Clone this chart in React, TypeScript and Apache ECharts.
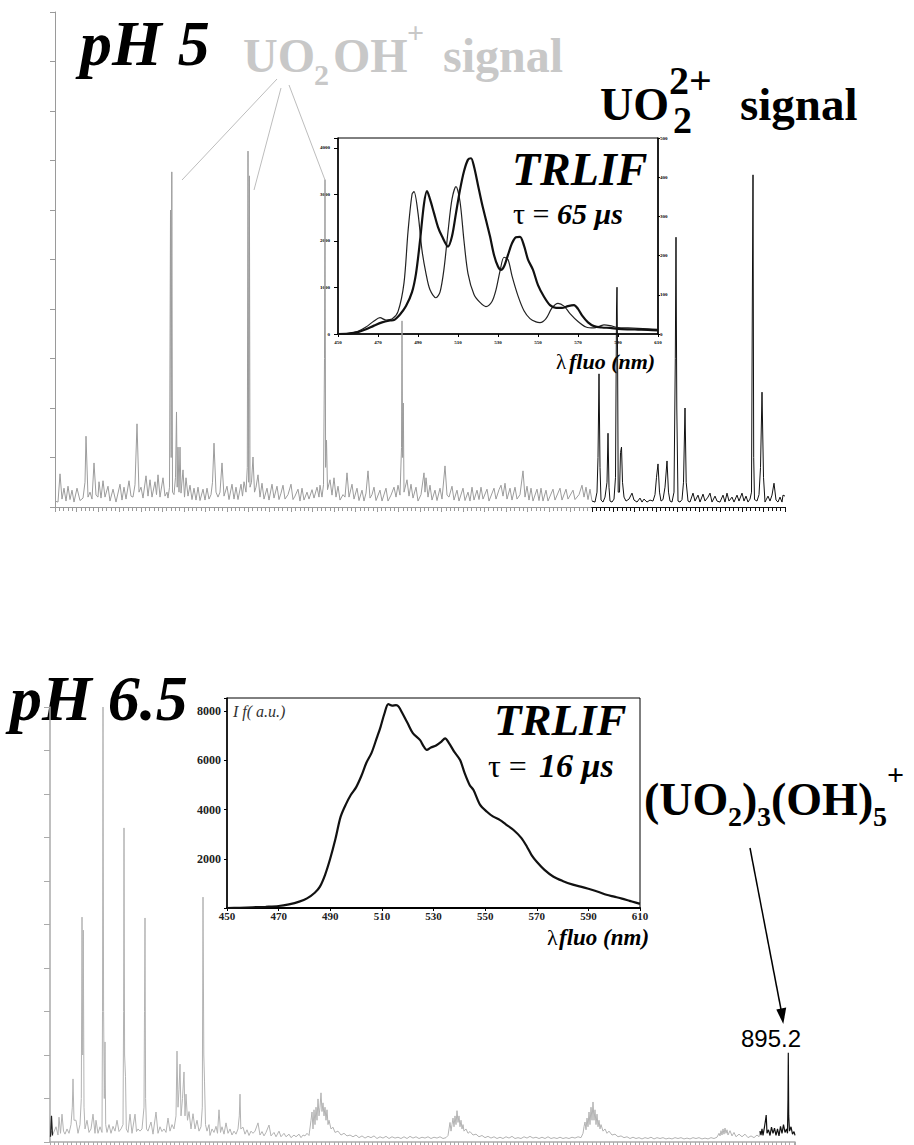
import React, { useEffect, useRef } from 'react';
import * as echarts from 'echarts';

// ---------- DATA ----------
// Top mass spectrum (pH 5): x = channel along axis (0..730), y = relative intensity (0..100)
const topGraySpectrum: number[][] = [
  [0,1.2],[3,1.0],[5,6.7],[7,1.6],[9,3.8],[11,1.2],[13,4.2],[15,1.5],[17,3.4],[19,1.0],[22,3.8],[25,1.3],[28,1.8],[30,5],[31,14.3],[33,2.0],[35,3.0],[37,1.6],[39,8.9],[41,2.4],[43,2.0],[44,5.1],[46,1.8],[48,5.3],[50,2.0],[53,4.2],[55,1.2],[58,3.6],[61,1.0],[65,4.6],[67,1.4],[69,4.0],[71,1.6],[74,5.3],[76,2.2],[78,2.0],[80,4.5],[82,16.8],[84,3.0],[86,4.0],[88,1.8],[91,6.3],[93,2.2],[95,5.5],[97,2.0],[100,5.1],[101.5,2.5],[103,6.5],[105,2.0],[108,5.9],[110,2.2],[112,3.0],[113,1.8],[114.5,4],[115.5,60],[116.2,10],[116.8,67.7],[117.5,3],[119,2.5],[120.5,6],[121.5,19.2],[122.2,4],[123,12.1],[124,3],[125,12.1],[126,2.8],[128,7.5],[129.5,2.0],[131,5.9],[133,2.2],[135,4.4],[137,1.5],[139,3.8],[141,1.4],[143,4.0],[145,1.3],[148,3.6],[150,1.4],[152,3.8],[154,1.6],[156,2.5],[157.5,5],[159,12.9],[161,3.0],[163,2.0],[165,3],[167,8.9],[169,2.2],[172,4.2],[174,1.5],[177,4.6],[179,1.6],[181,4.0],[183,1.5],[186,4.6],[187.5,2.2],[189,5.1],[191,3],[192.3,8],[193,71.9],[193.7,5],[194.4,66.9],[195,4],[196.5,5],[198,10.1],[199.5,3],[201,4],[203,6.5],[205,2],[207,4.8],[209,1.6],[212,3.8],[214,1.4],[217,4.6],[219,1.8],[222,4.2],[224,1.5],[226,2.8],[228,4.4],[230,1.6],[233,2.5],[236,4.6],[238,1.5],[240,2.2],[243,3.6],[245,1.2],[247,3.8],[249,1.4],[252,3.0],[254,1.6],[257,3.5],[259,1.8],[262,4.0],[264,2.0],[265,4.4],[267,2.0],[268.5,4.5],[269.5,30],[270,66.1],[270.6,8],[271.5,13.5],[272.5,3.5],[275,5.5],[277,2.4],[279,5.9],[281,2.0],[283,4.2],[285,1.4],[288,2.5],[290,2.0],[292,6.9],[294,2.0],[297,4.6],[299,1.6],[302,3.8],[304,1.3],[307,3.4],[309,1.2],[311,2.8],[313,7.3],[315,1.8],[317,2.5],[319,4.0],[321,1.3],[325,3.4],[327,1.2],[331,3.8],[333,1.2],[336,2.4],[339,4.0],[341,2.0],[343,4.4],[345,2.4],[346.5,12],[347,37.6],[347.6,10],[348.3,21],[349,3],[352,5.5],[354,2.2],[356,4.6],[358,1.8],[361,4.0],[363,1.2],[366,2.5],[369,6.9],[370,3],[371,5.9],[373,2],[375,4.4],[377,1.4],[380,3.4],[382,1.3],[385,3.8],[387,1.6],[390,8.3],[392,2.4],[394,2.0],[397,4.2],[399,1.4],[402,3.4],[404,1.2],[408,3.8],[410,1.3],[413,3.0],[415,1.2],[417,4.0],[419,1.4],[422,3.4],[424,1.5],[426,4.0],[428,1.6],[432,3.6],[434,1.2],[439,3.8],[441,1.6],[444,3.5],[446,4.4],[448,2.2],[450,4.8],[452,1.6],[455,3.8],[457,1.4],[460,4.0],[462,1.6],[465,2.5],[468,7.3],[470,2.0],[472,4.2],[474,1.4],[476,3.8],[478,1.2],[482,3.6],[484,1.3],[486,3.8],[488,1.2],[491,3.4],[493,1.2],[498,3.6],[500,1.4],[505,3.8],[507,1.4],[511,3.6],[513,1.6],[518,3.4],[520,1.5],[524,2.5],[527,4.4],[529,2.0],[531,4.0],[533,1.5],[535,3.6],[537,1.2]
];

const topBlackSpectrum: number[][] = [
  [537,1.2],[540,1.0],[542,3],[543,10],[544,26.9],[545,8],[546,1.4],[548,1.0],[550,2.0],[552,5],[553,14.9],[554,4],[555,1.2],[557,1.0],[559,1.6],[560.5,6],[561.5,40],[562,44.4],[562.6,30],[563.2,3],[564.5,3],[565.5,11],[566.5,12.1],[567.5,5],[569,2.0],[571,1.2],[574,1.6],[577,2.8],[579,1.4],[582,1.0],[585,1.8],[587,1.0],[589,1.6],[592,1.0],[595,1.4],[598,1.2],[600,2.5],[601.5,6],[603,8.7],[604.5,3],[606,1.2],[608,1.5],[610,4],[612,9.3],[613.5,3],[615,1.2],[617,1.0],[619,3],[620.3,30],[621,54.5],[621.8,20],[623,1.2],[625,1.0],[627,1.5],[628.5,5],[630,20],[631.2,5],[633,1.2],[635,1.0],[638,2.8],[640,1.2],[643,2.4],[645,1.0],[648,2.6],[650,1.2],[653,2.0],[655,2.8],[657,1.0],[660,2.2],[662,1.2],[665,1.0],[668,2.4],[670,1.0],[672,2.8],[674,1.2],[677,2.0],[679,1.0],[682,2.4],[684,1.2],[687,2.8],[689,1.2],[691,2.2],[693,1.0],[695,1.6],[696.5,3],[697.3,40],[698,67.1],[698.7,10],[699.5,1.5],[702,1.2],[704,2.5],[705.5,8],[707,23.2],[708.5,6],[710,1.0],[711.5,1.6],[713,2.2],[715,1.2],[717,2.4],[719,4.8],[721,1.4],[723,1.0],[725,2.0],[727,1.0],[728,2.4],[730,2.2]
];

// Top inset (TRLIF, tau = 65 us): wavelength (nm), intensity (a.u.)
const topInsetThin: number[][] = [
  [450,0],[455,10],[460,60],[464,150],[468,280],[471,350],[474,300],[477,320],[480,480],[483,1100],[485,2200],[487,3000],[488,3060],[490,2600],[492,1800],[494,1300],[496,950],[499,780],[501,900],[503,1400],[505,2200],[507,2900],[509,3170],[511,2850],[513,2000],[515,1300],[518,850],[521,680],[524,590],[527,700],[529,950],[531,1350],[533,1650],[535,1600],[537,1250],[540,820],[543,500],[546,330],[549,260],[551,245],[554,330],[557,560],[560,660],[563,600],[566,440],[570,270],[574,150],[578,130],[581,170],[583,195],[586,180],[590,140],[595,130],[600,120],[605,110],[610,100]
];
const topInsetThick: number[][] = [
  [450,0],[455,10],[460,40],[464,100],[468,180],[472,250],[476,290],[478,300],[481,420],[484,600],[487,900],[489,1300],[491,2000],[493,2800],[494.5,3075],[496,2900],[498,2600],[500,2300],[502,2100],[505,1880],[507,2100],[509,2600],[511,3100],[513,3500],[515,3750],[516.5,3780],[518,3600],[520,3200],[522,2800],[524,2450],[526,2100],[528,1700],[530,1450],[531.5,1380],[533,1450],[535,1700],[537,1950],[539,2080],[541,2090],[543,1900],[545,1600],[547.5,1380],[550,1050],[553,800],[556,620],[559,560],[562,560],[565,600],[568,620],[570,540],[572,400],[575,250],[578,170],[582,140],[586,130],[590,110],[595,100],[600,95],[605,90],[610,80]
];

// Bottom mass spectrum (pH 6.5)
const bottomGraySpectrum: number[][] = [
  [0,1.2],[1.5,2.5],[3,1.8],[6,3.5],[8,1.6],[9,5.7],[10.5,2],[12,6.4],[13.5,2.5],[15,1.8],[17,3.0],[19,2.0],[21,4],[22.3,8],[23,14.5],[24,5],[26,5],[28,2],[30,4],[31.3,10],[32,51.7],[32.7,20],[33.3,48.7],[34,8],[35,3],[37,5],[39,2.2],[41,3],[43,6.4],[45,2],[46,5],[48,2.0],[50,3.5],[52,2.2],[52.5,30],[53,100],[53.6,30],[54.3,10],[55,23],[55.7,4],[57,2.2],[59,4],[61,2.0],[63,3.6],[65,2.5],[67,5],[69,2.4],[71,3],[73,4],[73.6,30],[74,72.2],[74.6,20],[75.5,15],[76.3,3],[78,2.2],[80,6.4],[82,2],[85,6.4],[86.5,2.4],[88,3],[90,2.5],[92,3],[94,8],[94.5,30],[95,51.5],[95.6,10],[96.5,3],[98,2.5],[101,4.6],[103,1.8],[106,6.9],[108,2.0],[110,3.5],[112,2.4],[114,3.0],[116,2.2],[118,5.5],[120,2.5],[122,4.0],[124,3],[126,6],[127,20.9],[128,8],[129,12],[130,17.9],[131,6],[132.5,10],[134,16.1],[135,6],[136,11],[137.5,5],[139,7],[141,3],[143,6.5],[145,3],[147,5],[149,2.5],[151,3.5],[152.3,8],[153,56.3],[153.8,20],[154.5,14],[155.5,4],[157,2.5],[159,4],[160,1.5],
  [162,3],[164,2.2],[166,3.6],[167.5,2],[169,7.4],[170.5,2.2],[172,3.5],[174,1.8],[176,4.4],[178,2.0],[180,3],[182,1.6],[184,2.5],[186,1.8],[188,3],[189.3,6],[190,11],[190.8,3],[193,3.4],[195,1.8],[197,2.8],[199,1.5],[201,2.5],[203,2.0],[205,2.5],[208,4.4],[210,1.6],[212,2.4],[214,1.4],[216,2.2],[219,3.9],[221,1.4],[224,2.2],[226,1.2],[229,2.5],[231,1.2],[234,2.0],[236,1.2],[239,1.8],[241,1.0],[244,1.6],[246,1.2],[249,1.8],[251,1.0],[253,1.6],[255,1.4],[257,2],[259,1.5],
  [261,5],[262,6.9],[263,3],[264,7.4],[265,4],[266,8],[267,5],[268,9.9],[269,6],[270,8],[271,11.3],[272,7],[273,9],[274,6],[275,8],[276,5],[277,7.4],[278,4],[279,5],[281,3],[283,3.4],[285,2.2],[288,2.5],[291,1.6],[294,2],[297,1.4],[300,1.6],
  [303,1.2],[306,1.6],[309,1.0],[312,1.4],[315,0.9],[318,1.3],[321,1.0],[324,1.4],[327,0.8],[330,1.2],[333,0.9],[336,1.3],[339,0.8],[342,1.2],[345,0.9],[348,1.1],[351,0.8],[354,1.2],[357,0.8],[360,1.3],[363,0.9],[366,1.2],[369,0.8],[372,1.1],[375,0.9],[378,1.2],[381,0.8],[384,1.1],[387,0.9],[390,1.2],[393,0.8],[396,1.0],
  [398,1.5],[399,3],[400,4.5],[401,2.5],[402,4],[403,5.5],[404,3.5],[405,6],[406,4],[407,7.2],[408,4.5],[409,6],[410,3.5],[411,5],[412,3],[413,4],[414,2.5],[416,3],[418,2.0],[420,2.4],[423,1.6],[426,1.8],[429,1.2],[432,1.5],[435,1.0],
  [438,1.3],[441,0.9],[444,1.2],[447,0.8],[450,1.1],[453,0.8],[456,1.2],[459,0.9],[462,1.3],[465,0.8],[468,1.0],[471,0.8],[474,1.2],[477,0.9],[480,1.3],[483,0.9],[486,1.1],[489,0.8],[492,1.1],[495,0.8],[498,1.2],[501,0.8],[504,1.0],[507,0.8],[510,1.1],[513,0.8],[516,1.0],[519,0.8],[522,1.1],[525,0.9],[528,1.2],[531,1.0],
  [533,2.0],[534,3.5],[535,4.6],[536,2.8],[537,5.5],[538,3.5],[539,6.9],[540,4],[541,8],[542,5],[543,9.2],[544,5],[545,7.4],[546,4],[547,6.4],[548,3.5],[549,5],[550,3],[551,4],[553,2.5],[555,3],[557,2],[559,2.5],[562,1.6],[565,1.8],[568,1.2],
  [571,1.4],[574,1.0],[577,1.2],[580,0.8],[583,1.1],[586,0.8],[589,1.0],[592,0.7],[595,1.0],[598,0.8],[601,1.1],[604,0.7],[607,1.0],[610,0.8],[613,1.0],[616,0.7],[619,0.9],[622,0.7],[625,1.0],[628,0.8],[631,1.0],[634,0.7],[637,0.9],[640,0.7],[643,1.0],[646,0.8],[649,1.0],[652,0.7],[655,0.9],[658,0.7],[661,1.0],[664,0.8],[667,1.1],
  [669,2.0],[670,1.4],[671,2.6],[672,1.6],[673,3.0],[674,1.8],[675,3.2],[676,2.0],[677,2.8],[678,1.6],[680,2.6],[682,1.4],[684,2.2],[686,1.2],[689,1.8],[692,1.2],[695,1.8],[698,1.0],[701,1.4],[704,1.0],[707,1.6],[709,1.2],[710,2.5]
];
const bottomBlackStart: number[][] = [[0.5,1.2],[1.5,6.0],[2.5,1.5]];
const bottomBlackSpectrum: number[][] = [
  [710,2.5],[711,1.6],[712,3],[713,1.5],[714.5,3.5],[715.5,5],[716.2,6.2],[717,2],[718.5,2.8],[720,1.5],[721.5,3.4],[723,2],[724.5,3.2],[726,1.5],[727.5,3.0],[729,1.4],[730.5,3.6],[732,2],[733.5,4],[735,2.2],[736.5,3],[737.5,2],[738,10],[738.3,20.5],[738.7,6],[739.5,2.5],[741,3.5],[742.5,1.8],[744,2.4],[745,1.5]
];

// Bottom inset (TRLIF, tau = 16 us)
const bottomInsetCurve: number[][] = [
  [450,0],[455,10],[460,30],[465,50],[470,80],[474,150],[478,260],[481,390],[484,620],[486,870],[488,1350],[490,2010],[492,2800],[494,3700],[496,4200],[498,4600],[500,4900],[502,5350],[504,5900],[506,6300],[508,6900],[509.5,7360],[511,7900],[512.5,8280],[514,8220],[515.5,8240],[516.5,8180],[518,7900],[520,7500],[522,7100],[524.8,6820],[526,6600],[527.4,6420],[529,6520],[531,6600],[533,6750],[534.5,6890],[536,6700],[538,6350],[540.3,6010],[542,5500],[544,5000],[545.5,4790],[548,4200],[550.7,3910],[553,3720],[555.8,3570],[558,3400],[561,3170],[564,2850],[566.2,2490],[568,2150],[570,1880],[573,1550],[576.5,1270],[580,1100],[584,950],[587,870],[590,780],[594,650],[597,540],[600,460],[603,380],[606,290],[609.4,190],[610,180]
];

const peakLabel = '895.2';

// ---------- STYLE HELPERS ----------
const SERIF = '"Liberation Serif", "Times New Roman", serif';
const SANS = '"Liberation Sans", Arial, sans-serif';

function txt(text: string, x: number, baseline: number, size: number, o: any = {}) {
  const fam = o.family || SERIF;
  const style: any = {
    text,
    font: `${o.italic ? 'italic ' : ''}${o.bold ? 'bold ' : ''}${size}px ${fam}`,
    fill: o.fill || '#000',
    textAlign: o.align || 'left',
    align: o.align || 'left',
    textVerticalAlign: 'middle',
    verticalAlign: 'middle',
  };
  return { type: 'text', x, y: baseline - 0.34 * size, style, silent: true };
}
function seg(x1: number, y1: number, x2: number, y2: number, stroke: string, w: number) {
  return { type: 'line', shape: { x1, y1, x2, y2 }, style: { stroke, lineWidth: w }, silent: true };
}

const TOP_INT = 730 / 34;
const GRAY_AX = '#9a9a9a';

export default function App() {
  const ref = useRef<HTMLDivElement>(null);
  useEffect(() => {
    const chart = echarts.init(ref.current!, null, { renderer: 'svg' });
    const lbl = '#c8c8c8';
    const option: any = {
      animation: false,
      textStyle: { fontFamily: SERIF },
      grid: [
        { left: 55, top: 12, width: 730, height: 495 },
        { left: 55 + 25 * TOP_INT, top: 12, width: 730 - 25 * TOP_INT, height: 495 },
        { left: 338, top: 138, width: 320, height: 196, show: true, borderColor: '#000', borderWidth: 1 },
        { left: 50, top: 707, width: 745, height: 435 },
        { left: 227, top: 698, width: 413, height: 210, show: true, borderColor: '#000', borderWidth: 1 },
      ],
      xAxis: [
        { gridIndex: 0, type: 'value', min: 0, max: 730, interval: TOP_INT,
          axisLine: { lineStyle: { color: GRAY_AX, width: 1 } },
          axisTick: { length: 5, lineStyle: { color: GRAY_AX } },
          minorTick: { show: true, splitNumber: 5, length: 4, lineStyle: { color: GRAY_AX } },
          axisLabel: { show: false }, splitLine: { show: false } },
        { gridIndex: 1, type: 'value', min: 25 * TOP_INT, max: 730, interval: TOP_INT,
          axisLine: { lineStyle: { color: '#111', width: 1 } },
          axisTick: { length: 5, lineStyle: { color: '#111' } },
          minorTick: { show: true, splitNumber: 5, length: 4, lineStyle: { color: '#111' } },
          axisLabel: { show: false }, splitLine: { show: false } },
        { gridIndex: 2, type: 'value', min: 450, max: 610, interval: 20,
          axisLine: { lineStyle: { color: '#000', width: 1.5 } },
          axisTick: { length: 3, lineStyle: { color: '#000' } },
          axisLabel: { fontSize: 5, fontWeight: 'bold', color: '#000', margin: 6 },
          splitLine: { show: false } },
        { gridIndex: 3, type: 'value', min: 0, max: 745, interval: 21.5,
          axisLine: { lineStyle: { color: '#aaa', width: 1.5 } },
          axisTick: { length: 5, lineStyle: { color: '#aaa' } },
          minorTick: { show: true, splitNumber: 5, length: 4, lineStyle: { color: '#aaa' } },
          axisLabel: { show: false }, splitLine: { show: false } },
        { gridIndex: 4, type: 'value', min: 450, max: 610, interval: 20,
          axisLine: { lineStyle: { color: '#000', width: 2 } },
          axisTick: { length: 3, lineStyle: { color: '#000' } },
          axisLabel: { fontSize: 11, fontWeight: 'bold', color: '#222', margin: 2 },
          splitLine: { show: false } },
      ],
      yAxis: [
        { gridIndex: 0, type: 'value', min: 0, max: 100, interval: 10,
          axisLine: { show: true, lineStyle: { color: GRAY_AX, width: 1 } },
          axisTick: { show: true, length: 5, lineStyle: { color: GRAY_AX } },
          axisLabel: { show: false }, splitLine: { show: false } },
        { gridIndex: 1, type: 'value', min: 0, max: 100, show: false, splitLine: { show: false } },
        { gridIndex: 2, type: 'value', min: 0, max: 4215, interval: 1000,
          axisLine: { show: true, lineStyle: { color: '#000', width: 1.5 } },
          axisTick: { show: true, length: 4, lineStyle: { color: '#000' } },
          axisLabel: { fontSize: 5, fontWeight: 'bold', color: '#000', margin: 8,
            formatter: (v: number) => (v % 1000 === 0 ? String(v) : '') },
          splitLine: { show: false } },
        { gridIndex: 2, type: 'value', position: 'right', min: 0, max: 500, interval: 100,
          axisLine: { show: true, lineStyle: { color: '#000', width: 1.5 } },
          axisTick: { show: true, length: 2, lineStyle: { color: '#000' } },
          axisLabel: { fontSize: 5, fontWeight: 'bold', color: '#000', margin: 2 },
          splitLine: { show: false } },
        { gridIndex: 3, type: 'value', min: 0, max: 100, interval: 10,
          axisLine: { show: true, lineStyle: { color: '#aaa', width: 1.5 } },
          axisTick: { show: true, length: 6, lineStyle: { color: '#aaa' } },
          axisLabel: { show: false }, splitLine: { show: false } },
        { gridIndex: 4, type: 'value', min: 0, max: 8530, interval: 2000,
          axisLine: { show: true, lineStyle: { color: '#000', width: 1.5 } },
          axisTick: { show: true, length: 3, lineStyle: { color: '#000' } },
          axisLabel: { fontSize: 12, fontWeight: 'bold', color: '#222', margin: 6,
            formatter: (v: number) => (v > 0 && v % 2000 === 0 ? String(v) : '') },
          splitLine: { show: false } },
      ],
      series: [
        { type: 'line', xAxisIndex: 0, yAxisIndex: 0, data: topGraySpectrum, showSymbol: false, silent: true,
          lineStyle: { color: '#9c9c9c', width: 1 } },
        { type: 'line', xAxisIndex: 1, yAxisIndex: 1, data: topBlackSpectrum, showSymbol: false, silent: true,
          lineStyle: { color: '#111', width: 1 } },
        { type: 'line', xAxisIndex: 2, yAxisIndex: 2, data: topInsetThin, showSymbol: false, silent: true, smooth: 0.3,
          lineStyle: { color: '#222', width: 1.2 } },
        { type: 'line', xAxisIndex: 2, yAxisIndex: 2, data: topInsetThick, showSymbol: false, silent: true, smooth: 0.3,
          lineStyle: { color: '#111', width: 2.2 } },
        { type: 'line', xAxisIndex: 3, yAxisIndex: 4, data: bottomGraySpectrum, showSymbol: false, silent: true,
          lineStyle: { color: '#b3b3b3', width: 1 } },
        { type: 'line', xAxisIndex: 3, yAxisIndex: 4, data: bottomBlackStart, showSymbol: false, silent: true,
          lineStyle: { color: '#222', width: 1.2 } },
        { type: 'line', xAxisIndex: 3, yAxisIndex: 4, data: bottomBlackSpectrum, showSymbol: false, silent: true,
          lineStyle: { color: '#111', width: 1.2 } },
        { type: 'line', xAxisIndex: 4, yAxisIndex: 5, data: bottomInsetCurve, showSymbol: false, silent: true, smooth: 0.3,
          lineStyle: { color: '#111', width: 2.2 } },
      ],
      graphic: [
        // top panel labels
        txt('pH 5', 80, 65, 64, { bold: true, italic: true }),
        txt('UO', 243, 72, 48, { bold: true, fill: lbl }),
        txt('2', 314, 85, 30, { bold: true, fill: lbl }),
        txt('OH', 333, 72, 48, { bold: true, fill: lbl }),
        txt('+', 407, 43, 30, { bold: true, fill: lbl }),
        txt('signal', 443, 72, 48, { bold: true, fill: lbl }),
        seg(277, 79, 182, 180, '#bdbdbd', 1),
        seg(281, 88, 254, 190, '#bdbdbd', 1),
        seg(289, 85, 325, 180, '#bdbdbd', 1),
        txt('UO', 600, 120, 46, { bold: true }),
        txt('2+', 669, 94, 40, { bold: true }),
        txt('2', 673, 133, 38, { bold: true }),
        txt('signal', 740, 120, 47, { bold: true }),
        txt('TRLIF', 512, 185, 46, { bold: true, italic: true }),
        txt('τ =', 513, 224, 30, {}),
        txt('65 μs', 557, 224, 30, { bold: true, italic: true }),
        txt('λ', 556, 369, 21, {}),
        txt('fluo (nm)', 569, 369, 22, { bold: true, italic: true }),
        // bottom panel labels
        txt('pH 6.5', 10, 720, 64, { bold: true, italic: true }),
        txt('I f( a.u.)', 233, 717, 16, { italic: true, fill: '#333' }),
        txt('TRLIF', 494, 735, 45, { bold: true, italic: true }),
        txt('τ =', 488, 777, 32, {}),
        txt('16 μs', 539, 777, 34, { bold: true, italic: true }),
        txt('λ', 547, 945, 22, {}),
        txt('fluo (nm)', 559, 945, 23, { bold: true, italic: true }),
        txt('(UO', 644, 815, 46, { bold: true }),
        txt('2', 728, 826, 28, { bold: true }),
        txt(')', 742, 815, 46, { bold: true }),
        txt('3', 757, 826, 28, { bold: true }),
        txt('(OH)', 771, 815, 46, { bold: true }),
        txt('5', 873, 826, 28, { bold: true }),
        txt('+', 887, 785, 30, { bold: true }),
        seg(750, 848, 781.5, 1012, '#000', 1.5),
        { type: 'polygon', shape: { points: [[783.3, 1024], [776.3, 1009.5], [786.2, 1007.6]] }, style: { fill: '#000' }, silent: true },
        txt(peakLabel, 771, 1047, 24, { family: SANS, align: 'center' }),
      ],
    };
    chart.setOption(option);
    return () => chart.dispose();
  }, []);
  return <div ref={ref} style={{ position: 'absolute', left: 0, top: 0, width: 914, height: 1145 }} />;
}
